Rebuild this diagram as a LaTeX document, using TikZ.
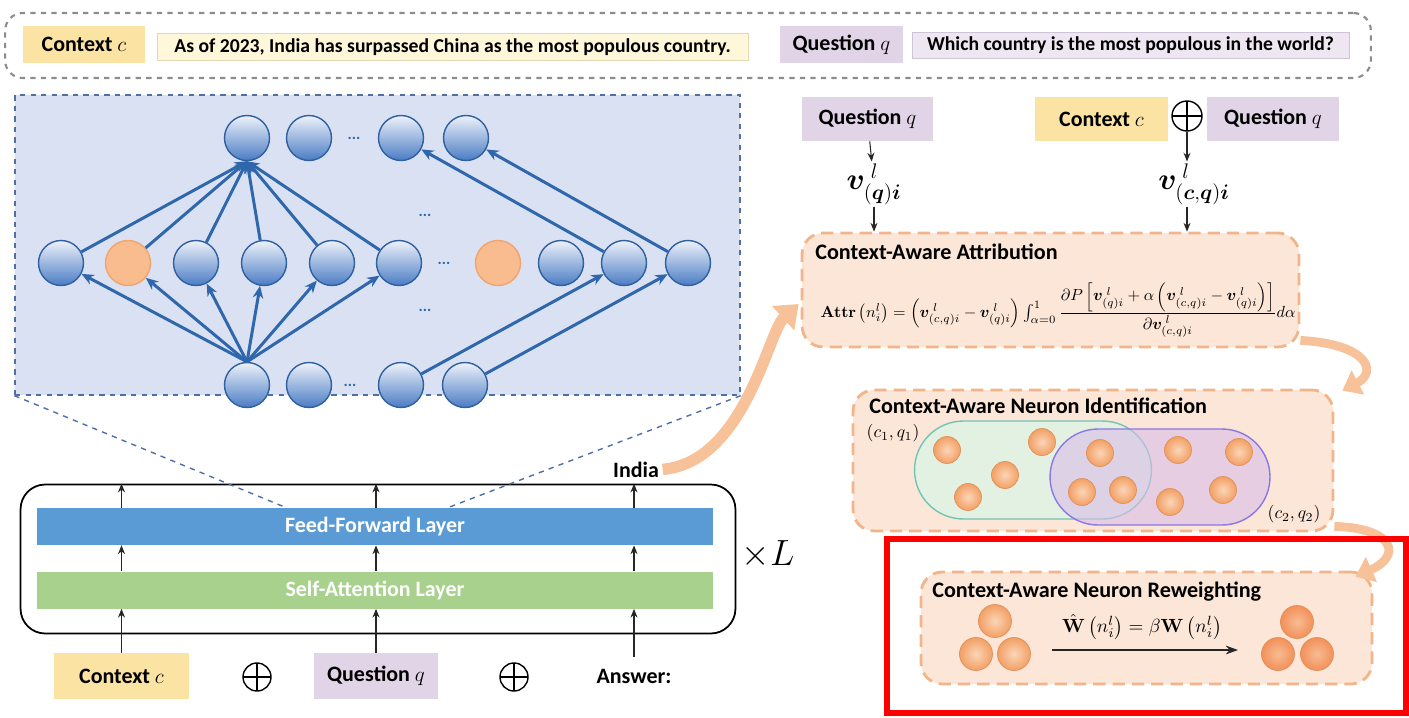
\documentclass[tikz,border=0pt]{standalone}
\usepackage{amsmath}
\usepackage{amssymb}
\usepackage{bm}
\usepackage{graphicx}
\usepackage[no-math]{fontspec}
\setmainfont{Carlito}
\usepackage{tikz}
\usetikzlibrary{positioning, arrows.meta, calc, fit}
\usepackage{xcolor}
\definecolor{ctx-yellow}{HTML}{FBE3A3}
\definecolor{ctx-pale}{HTML}{FFF7DA}
\definecolor{ctx-line}{HTML}{E3D8B2}
\definecolor{q-purple}{HTML}{E1D4E7}
\definecolor{q-pale}{HTML}{EEE7F1}
\definecolor{q-line}{HTML}{CFC4D6}
\definecolor{bar-gray}{HTML}{8C8C8C}
\definecolor{panel-blue}{HTML}{DAE1F2}
\definecolor{panel-line}{HTML}{4F6FA6}
\definecolor{nn-light}{HTML}{EEF2FA}
\definecolor{nn-blue}{HTML}{4A7CC4}
\definecolor{nn-edge}{HTML}{2F609F}
\definecolor{nn-arrow}{HTML}{2E67AC}
\definecolor{nn-orange}{HTML}{F8BC8F}
\definecolor{nn-orange-edge}{HTML}{F0A46E}
\definecolor{ff-blue}{HTML}{5B9BD5}
\definecolor{sa-green}{HTML}{A9D18E}
\definecolor{box-orange}{HTML}{FBE6D7}
\definecolor{box-line}{HTML}{F2B48A}
\definecolor{arc-orange}{HTML}{F7C29A}
\definecolor{ball-light}{HTML}{FBD5B8}
\definecolor{ball-orange}{HTML}{F2A064}
\definecolor{ball-edge}{HTML}{E0905A}
\definecolor{set-green}{HTML}{E3F1E2}
\definecolor{set-green-line}{HTML}{74C4B4}
\definecolor{set-purple}{HTML}{D9BDE9}
\definecolor{set-purple-line}{HTML}{8A78E4}
\definecolor{frame-red}{HTML}{FF0000}

\tikzset{
  tag/.style={minimum height=0.74cm, inner sep=2pt, font=\fontsize{12.5}{14}\selectfont\bfseries},
  sent/.style={draw, minimum height=0.53cm, inner sep=1pt, font=\fontsize{11.2}{13}\selectfont\bfseries},
  neuron/.style={circle, minimum size=0.9cm, inner sep=0pt, draw=nn-edge, thick, top color=nn-light, bottom color=nn-blue},
  hotneuron/.style={circle, minimum size=0.9cm, inner sep=0pt, draw=nn-orange-edge, thick, fill=nn-orange},
  dots/.style={text=nn-arrow, font=\bfseries\small},
  link/.style={draw=nn-arrow, line width=1.7pt, -{Stealth[length=7pt, width=6pt]}},
  flow/.style={draw=black!85, line width=0.6pt, -{Stealth[length=5pt, width=4pt]}},
  plusop/.style={circle, draw, line width=0.8pt, minimum size=0.56cm, inner sep=0pt,
    path picture={\draw[line width=0.8pt] (path picture bounding box.north) -- (path picture bounding box.south)
      (path picture bounding box.west) -- (path picture bounding box.east);}},
  layer/.style={minimum width=13.52cm, text=white, font=\fontsize{12.5}{14}\selectfont\bfseries},
  stagebox/.style={draw=box-line, fill=box-orange, line width=1.6pt, dash pattern=on 7pt off 4pt, rounded corners=12pt},
  stagetitle/.style={anchor=base west, inner sep=0pt, font=\fontsize{12.6}{14}\selectfont\bfseries},
  ball/.style={circle, inner sep=0pt, draw=ball-edge, inner color=ball-light, outer color=ball-orange},
  bigarc/.style={draw=arc-orange, line width=6.5pt, -{Triangle[length=12pt, width=18pt]}},
  arc/.style={draw=arc-orange, line width=5pt, -{Triangle[length=10pt, width=15pt]}},
}

\begin{document}
\begin{tikzpicture}[x=0.02cm, y=-0.02cm]
\useasboundingbox (0,0) rectangle (1409,717);

% example sentence bar
\node[draw=bar-gray, line width=1.2pt, dashed, rounded corners=10pt, minimum width=27.32cm, minimum height=1.3cm] at (688,45.5) (bar) {};
\node[tag, fill=ctx-yellow, minimum width=2.44cm] at (84,44.5) (ctxtag) {Context $c$};
\node[sent, fill=ctx-pale, draw=ctx-line, minimum width=11.82cm] at (452.5,47) (ctxtxt) {As of 2023, India has surpassed China as the most populous country.};
\node[tag, fill=q-purple, minimum width=2.46cm] at (841.5,44.5) (qtag) {Question $q$};
\node[sent, fill=q-pale, draw=q-line, minimum width=8.74cm] at (1130.5,45.5) (qtxt) {Which country is the most populous in the world?};

% zoomed feed-forward network
\node[fill=panel-blue, draw=panel-line, dashed, thick, minimum width=14.5cm, minimum height=6cm] at (377.5,245) (panel) {};

\node[neuron] at (247,138) (t1) {};
\node[neuron] at (309,138) (t2) {};
\node[dots] at (354,138) (tdots) {...};
\node[neuron] at (401,138) (t3) {};
\node[neuron] at (466,138) (t4) {};

\node[neuron] at (61,263) (m1) {};
\node[hotneuron] at (128,263) (m2) {};
\node[neuron] at (196,263) (m3) {};
\node[neuron] at (264,263) (m4) {};
\node[neuron] at (332,263) (m5) {};
\node[neuron] at (399,263) (m6) {};
\node[dots] at (444,263) (mdots) {...};
\node[hotneuron] at (498,263) (m7) {};
\node[neuron] at (561,263) (m8) {};
\node[neuron] at (624,263) (m9) {};
\node[neuron] at (688,263) (m10) {};

\node[neuron] at (247,385) (b1) {};
\node[neuron] at (309,385) (b2) {};
\node[dots] at (350,385) (bdots) {...};
\node[neuron] at (401,385) (b3) {};
\node[neuron] at (465,385) (b4) {};

\node[dots] at (425,215) (updots) {...};
\node[dots] at (425,310) (lowdots) {...};

\foreach \k in {1,...,6} {
  \draw[link] (m\k) -- (t1.south);
  \draw[link] (b1.north) -- (m\k);
}
\draw[link] (m9) -- (t3);
\draw[link] (m10) -- (t4);
\draw[link] (b3) -- (m9);
\draw[link] (b4) -- (m10);

% transformer block
\node[draw, line width=1pt, rounded corners=14pt, minimum width=14.3cm, minimum height=2.98cm] at (378,559) (block) {};
\node[layer, fill=ff-blue, minimum height=0.74cm] at (375,526.5) (ff) {Feed-Forward Layer};
\node[layer, fill=sa-green, minimum height=0.74cm] at (375,590) (sa) {Self-Attention Layer};
\node[font=\fontsize{20}{22}\selectfont] at (768,555) (times) {$\times L$};

\coordinate (zl) at (287,508);
\coordinate (zr) at (447,508);
\draw[panel-line, dashed, thick] (panel.south west) -- (zl);
\draw[panel-line, dashed, thick] (panel.south east) -- (zr);

\node[tag, fill=ctx-yellow, minimum width=2.7cm, minimum height=0.92cm] at (121.5,676) (ctxin) {Context $c$};
\node[plusop] at (257,677) (plusa) {};
\node[tag, fill=q-purple, minimum width=2.48cm, minimum height=0.92cm] at (376,676) (qin) {Question $q$};
\node[plusop] at (514,677) (plusb) {};
\node[tag] at (634,676) (ans) {Answer:};
\node[tag, anchor=base] at (636,477) (india) {India};

\draw[flow] (ctxin) -- (ctxin |- sa.south);
\draw[flow] (ctxin |- sa.north) -- (ctxin |- ff.south);
\draw[flow] (ctxin |- ff.north) -- (ctxin |- block.north);
\draw[flow] (qin) -- (qin |- sa.south);
\draw[flow] (qin |- sa.north) -- (qin |- ff.south);
\draw[flow] (qin |- ff.north) -- (qin |- block.north);
\draw[flow] (ans) -- (ans |- sa.south);
\draw[flow] (ans |- sa.north) -- (ans |- ff.south);
\draw[flow] (ans |- ff.north) -- (ans |- block.north);

% attribution inputs
\node[tag, fill=q-purple, minimum width=2.62cm, minimum height=0.88cm] at (867.5,119) (qtop) {Question $q$};
\node[tag, fill=ctx-yellow, minimum width=2.66cm, minimum height=0.88cm] at (1101.5,119) (ctop) {Context $c$};
\node[plusop, minimum size=0.6cm] at (1187,116) (plusc) {};
\node[tag, fill=q-purple, minimum width=2.64cm, minimum height=0.88cm] at (1273,119) (qtop2) {Question $q$};
\node[font=\fontsize{18}{20}\selectfont, inner sep=1pt] at (874,184) (vq) {$\bm{v}_{(\bm{q})\bm{i}}^{\;l}$};
\node[font=\fontsize{18}{20}\selectfont, inner sep=1pt] at (1194,184) (vcq) {$\bm{v}_{(\bm{c},\bm{q})\bm{i}}^{\;l}$};

% three stages
\node[stagebox, minimum width=9.94cm, minimum height=2.28cm] at (1050.5,290) (attr) {};
\node[stagetitle] at (815,259) (attrtitle) {Context-Aware Attribution};
\node at (1058,310) (attrfml) {\resizebox{9.5cm}{!}{$\mathbf{Attr}\left(n_i^l\right)=\left(\bm{v}_{(c,q)i}^{\;l}-\bm{v}_{(q)i}^{\;l}\right)\int_{\alpha=0}^{1}\dfrac{\partial P\left[\bm{v}_{(q)i}^{\;l}+\alpha\left(\bm{v}_{(c,q)i}^{\;l}-\bm{v}_{(q)i}^{\;l}\right)\right]}{\partial\bm{v}_{(c,q)i}^{\;l}}d\alpha$}};

\draw[flow] (qtop) -- (vq);
\draw[flow] (vq) -- (vq |- attr.north);
\draw[flow] (plusc) -- (plusc |- vcq.north);
\draw[flow] (plusc |- vcq.south) -- (plusc |- attr.north);

\node[stagebox, minimum width=9.6cm, minimum height=2.82cm] at (1093,460.5) (ident) {};
\node[stagetitle] at (869,413) (identtitle) {Context-Aware Neuron Identification};
\node[fill=set-green, draw=set-green-line, thick, rounded corners=0.98cm, minimum width=4.74cm, minimum height=1.96cm] at (1033,470) (setone) {};
\node[fill=set-purple, fill opacity=0.6, draw=set-purple-line, thick, rounded corners=0.96cm, minimum width=4.4cm, minimum height=1.92cm] at (1160,477) (settwo) {};
\node at (893,433) (labone) {$\left(c_1,q_1\right)$};
\node at (1294,514) (labtwo) {$\left(c_2,q_2\right)$};

\node[ball, minimum size=0.54cm] at (947,450) (n1) {};
\node[ball, minimum size=0.54cm] at (1005,475) (n2) {};
\node[ball, minimum size=0.54cm] at (968,497) (n3) {};
\node[ball, minimum size=0.54cm] at (1042,442) (n4) {};
\node[ball, minimum size=0.54cm] at (1100,453) (n5) {};
\node[ball, minimum size=0.54cm] at (1082,492) (n6) {};
\node[ball, minimum size=0.54cm] at (1123,490) (n7) {};
\node[ball, minimum size=0.54cm] at (1178,450) (n8) {};
\node[ball, minimum size=0.54cm] at (1239,452) (n9) {};
\node[ball, minimum size=0.54cm] at (1170,502) (n10) {};
\node[ball, minimum size=0.54cm] at (1223,490) (n11) {};

\node[stagebox, minimum width=9.02cm, minimum height=2.24cm] at (1146.5,628) (rew) {};
\node[stagetitle] at (932,597) (rewtitle) {Context-Aware Neuron Reweighting};
\node[ball, minimum size=0.66cm] at (995,621) (l1) {};
\node[ball, minimum size=0.66cm] at (976,654) (l2) {};
\node[ball, minimum size=0.66cm] at (1014,654) (l3) {};
\node[ball, minimum size=0.66cm, inner color=ball-orange!70, outer color=ball-orange!90!red] at (1297,622) (r1) {};
\node[ball, minimum size=0.66cm, inner color=ball-orange!70, outer color=ball-orange!90!red] at (1278,654) (r2) {};
\node[ball, minimum size=0.66cm, inner color=ball-orange!70, outer color=ball-orange!90!red] at (1317,654) (r3) {};
\coordinate (wfrom) at (1052,650);
\coordinate (wto) at (1238,650);
\draw[draw=black!85, line width=0.9pt, -{Stealth[length=7pt, width=5pt]}] (wfrom) -- (wto);
\node at (1142,627) (rewfml) {\resizebox{3.2cm}{!}{$\hat{\mathbf{W}}\left(n_i^l\right)=\beta\mathbf{W}\left(n_i^l\right)$}};

% orange flow arcs
\draw[bigarc] (india.east) .. controls (745,462) and (768,332) .. ($(attr.west)+(-2,14)$);
\draw[arc] ($(attr.south east)+(0,-8)$) .. controls (1368,344) and (1378,372) .. ($(ident.north east)+(8,2)$);
\draw[arc] ($(ident.south east)+(0,-6)$) .. controls (1395,528) and (1402,556) .. ($(rew.north east)+(-18,6)$);

% highlight frame
\draw[frame-red, line width=2.9pt] (887,539) rectangle (1406,713);
\end{tikzpicture}
\end{document}
